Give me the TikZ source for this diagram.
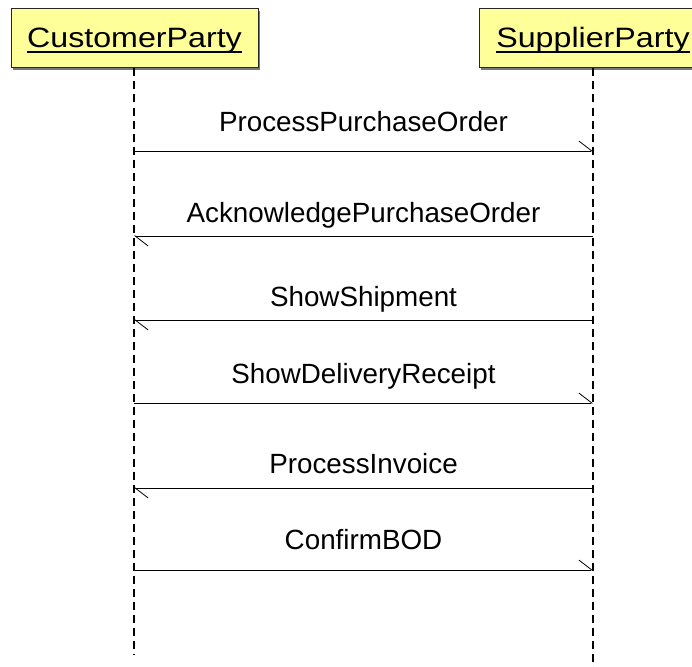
\documentclass[tikz,border=0pt]{standalone}
\usepackage{fontspec}
\setmainfont{Liberation Sans}
\newfontfamily\headfont[FakeStretch=1.15]{Liberation Sans}
\usetikzlibrary{arrows.meta}
\definecolor{headyellow}{RGB}{255,255,153}
\definecolor{shadowgray}{RGB}{120,120,120}
\begin{document}
\begin{tikzpicture}[x=1pt,y=-1pt,
  headbox/.style={draw=black!85, fill=headyellow, line width=1pt, inner sep=0pt},
  headshadow/.style={fill=shadowgray, draw=none, inner sep=0pt},
  headtext/.style={anchor=base, inner sep=0pt, font=\headfont\fontsize{28}{34}\selectfont},
  lifeline/.style={line width=2.2pt, dash pattern=on 8pt off 5pt},
  msg/.style={line width=0.8pt, -{Straight Barb[left, length=13pt, width=20pt, line width=0.8pt]}},
  lbl/.style={anchor=base, inner sep=0pt, font=\fontsize{27.8}{33}\selectfont}]
\useasboundingbox (0,0) rectangle (692,666);
\clip (0,0) rectangle (692,666);
% header boxes
\node[headshadow, minimum width=247pt, minimum height=59pt] (custsh) at (136.5,40.5) {};
\node[headbox, minimum width=247pt, minimum height=59pt] (cust) at (134.5,38.5) {};
\node[headshadow, minimum width=228pt, minimum height=59pt] (suppsh) at (595,40.5) {};
\node[headbox, minimum width=228pt, minimum height=59pt] (supp) at (593,38.5) {};
\node[headtext] (custtext) at (134.5,47.3) {CustomerParty};
\node[headtext] (supptext) at (593,47.3) {SupplierParty};
\draw[line width=1.8pt] ([yshift=-4.5pt]custtext.base west) -- ([yshift=-4.5pt]custtext.base east);
\draw[line width=1.8pt] ([yshift=-4.5pt]supptext.base west) -- ([yshift=-4.5pt]supptext.base east);
% lifelines
\coordinate (custend) at (134,655);
\coordinate (suppend) at (593,670);
\draw[lifeline] (cust.south -| custend) -- (custend);
\draw[lifeline] (supp.south -| suppend) -- (suppend);
% message rows
\coordinate (r1) at (0,151);
\coordinate (r2) at (0,236);
\coordinate (r3) at (0,320);
\coordinate (r4) at (0,403);
\coordinate (r5) at (0,488);
\coordinate (r6) at (0,570);
\draw[msg] (custend |- r1) -- (suppend |- r1);
\draw[msg] (suppend |- r2) -- (custend |- r2);
\draw[msg] (suppend |- r3) -- (custend |- r3);
\draw[msg] (custend |- r4) -- (suppend |- r4);
\draw[msg] (suppend |- r5) -- (custend |- r5);
\draw[msg] (custend |- r6) -- (suppend |- r6);
% labels
\node[lbl] (l1) at (363.5,131) {ProcessPurchaseOrder};
\node[lbl] (l2) at (363.5,222) {AcknowledgePurchaseOrder};
\node[lbl] (l3) at (363.5,306) {ShowShipment};
\node[lbl] (l4) at (363.5,383) {ShowDeliveryReceipt};
\node[lbl] (l5) at (363.5,473) {ProcessInvoice};
\node[lbl] (l6) at (363.5,549) {ConfirmBOD};
\end{tikzpicture}
\end{document}
